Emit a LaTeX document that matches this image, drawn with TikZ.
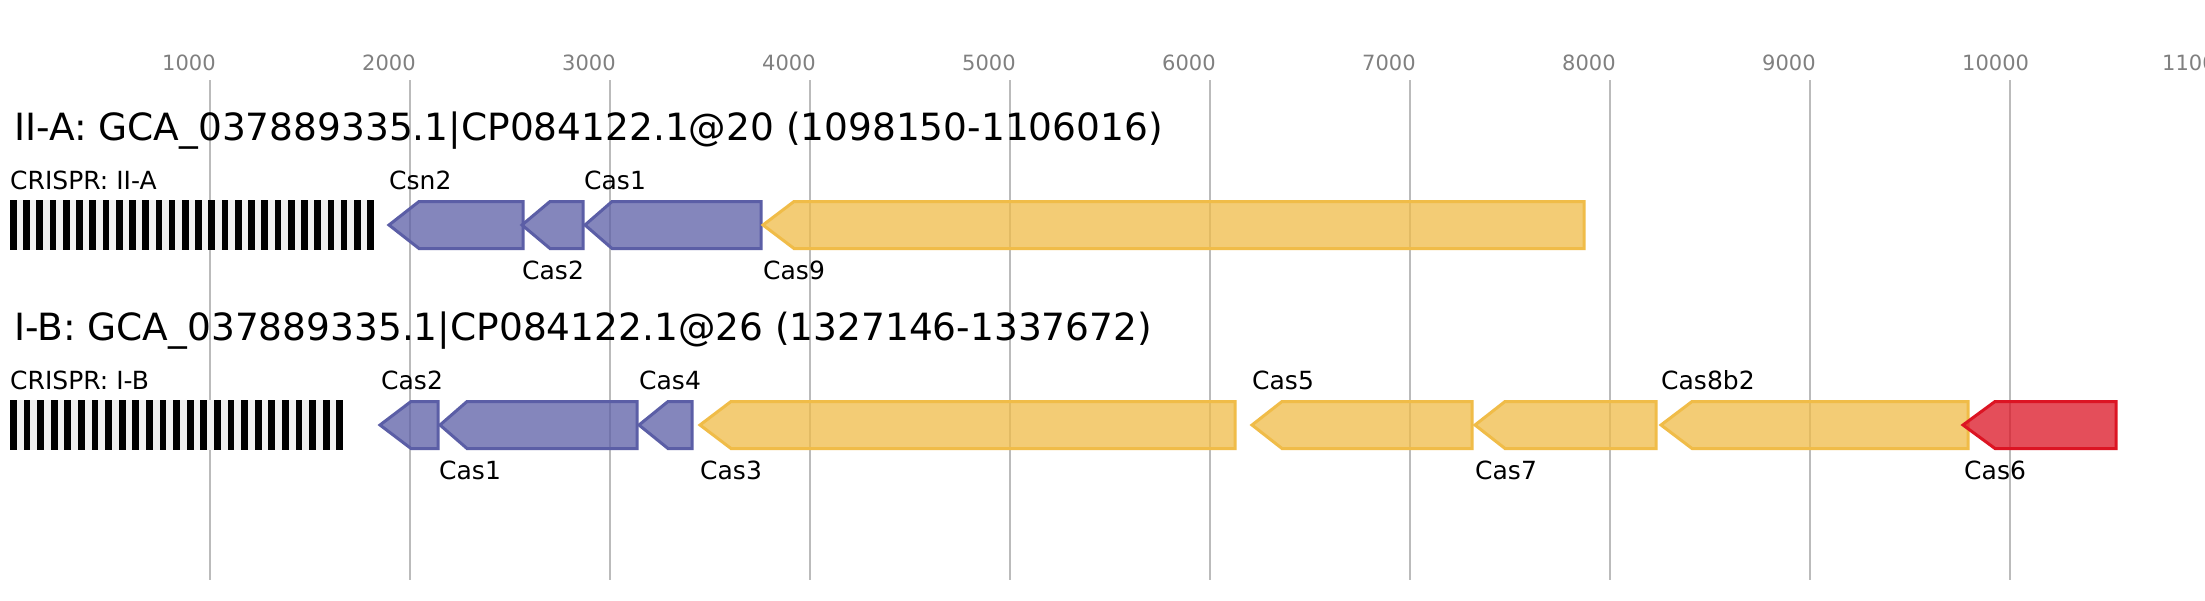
\documentclass[tikz,border=0pt]{standalone}
\usepackage{fontspec}
\setmainfont{DejaVu Sans}
\definecolor{gridgray}{HTML}{BBBBBB}
\definecolor{axisgray}{HTML}{808080}
\definecolor{purpleline}{HTML}{5B5EA6}
\definecolor{yellowline}{HTML}{F0BC48}
\definecolor{redline}{HTML}{DC1423}
\definecolor{spacergray}{HTML}{F0F0F0}
\tikzset{
  gridline/.style={draw=gridgray, line width=2pt},
  axislabel/.style={anchor=base west, inner sep=0pt, text=axisgray, font=\fontsize{21}{25}\selectfont},
  titlelabel/.style={anchor=base west, inner sep=0pt, font=\fontsize{37.5}{45}\selectfont},
  genelabel/.style={anchor=base west, inner sep=0pt, font=\fontsize{25}{30}\selectfont},
  genebase/.style={line width=3pt, line join=miter, fill opacity=0.75},
  purplegene/.style={genebase, draw=purpleline, fill=purpleline},
  yellowgene/.style={genebase, draw=yellowline, fill=yellowline},
  redgene/.style={genebase, draw=redline, fill=redline},
  repeatbar/.style={fill=black, draw=none},
  spacerband/.style={fill=spacergray, draw=none}
}
% style, tip x, body x, right x, top y, mid y, bottom y
\newcommand{\genearrow}[7]{%
  \path[#1] (#2,#6) -- (#3,#5) -- (#4,#5) -- (#4,#7) -- (#3,#7) -- cycle;%
}
\begin{document}
\begin{tikzpicture}[x=1pt,y=-1pt]
\useasboundingbox (0,0) rectangle (2205,600);
\clip (0,0) rectangle (2205,600);
\fill[white] (0,0) rectangle (2205,600);
% grid and axis
\foreach \k in {1,...,11} {
  \pgfmathsetmacro{\gx}{10+200*\k}
  \draw[gridline] (\gx,80) -- (\gx,580);
  \node[axislabel] (ax\k) at (\gx-48,70) {\k000};
}
% ---------- II-A ----------
\node[titlelabel] (titleA) at (14,140) {II-A: GCA\_037889335.1|CP084122.1@20 (1098150-1106016)};
\node[genelabel] (crA) at (10,189) {CRISPR: II-A};
\fill[spacerband] (10,200) rectangle (374,250);
\foreach \i in {0,...,27} {
  \pgfmathsetmacro{\bx}{10+13.23*\i}
  \fill[repeatbar] (\bx,200) rectangle (\bx+6.7,250);
}
\genearrow{purplegene}{389}{419}{523}{201.5}{225}{248.5}
\genearrow{purplegene}{522}{550}{583}{201.5}{225}{248.5}
\genearrow{purplegene}{585}{612}{761}{201.5}{225}{248.5}
\genearrow{yellowgene}{763}{794}{1584}{201.5}{225}{248.5}
\node[genelabel] (lCsn2) at (389,189) {Csn2};
\node[genelabel] (lCas2A) at (522,279) {Cas2};
\node[genelabel] (lCas1A) at (584,189) {Cas1};
\node[genelabel] (lCas9) at (763,279) {Cas9};
% ---------- I-B ----------
\node[titlelabel] (titleB) at (14,340) {I-B: GCA\_037889335.1|CP084122.1@26 (1327146-1337672)};
\node[genelabel] (crB) at (10,389) {CRISPR: I-B};
\fill[spacerband] (10,400) rectangle (343,450);
\foreach \i in {0,...,24} {
  \pgfmathsetmacro{\bx}{10+13.6*\i}
  \fill[repeatbar] (\bx,400) rectangle (\bx+6.7,450);
}
\genearrow{purplegene}{380}{411}{438}{401.5}{425}{448.5}
\genearrow{purplegene}{440}{467}{637}{401.5}{425}{448.5}
\genearrow{purplegene}{639}{668}{692}{401.5}{425}{448.5}
\genearrow{yellowgene}{700}{731}{1235}{401.5}{425}{448.5}
\genearrow{yellowgene}{1252}{1282}{1472}{401.5}{425}{448.5}
\genearrow{yellowgene}{1475}{1505}{1656}{401.5}{425}{448.5}
\genearrow{yellowgene}{1661}{1692}{1968}{401.5}{425}{448.5}
\genearrow{redgene}{1963}{1995}{2116}{401.5}{425}{448.5}
\node[genelabel] (lCas2B) at (381,389) {Cas2};
\node[genelabel] (lCas1B) at (439,479) {Cas1};
\node[genelabel] (lCas4) at (639,389) {Cas4};
\node[genelabel] (lCas3) at (700,479) {Cas3};
\node[genelabel] (lCas5) at (1252,389) {Cas5};
\node[genelabel] (lCas7) at (1475,479) {Cas7};
\node[genelabel] (lCas8) at (1661,389) {Cas8b2};
\node[genelabel] (lCas6) at (1964,479) {Cas6};
\end{tikzpicture}
\end{document}
